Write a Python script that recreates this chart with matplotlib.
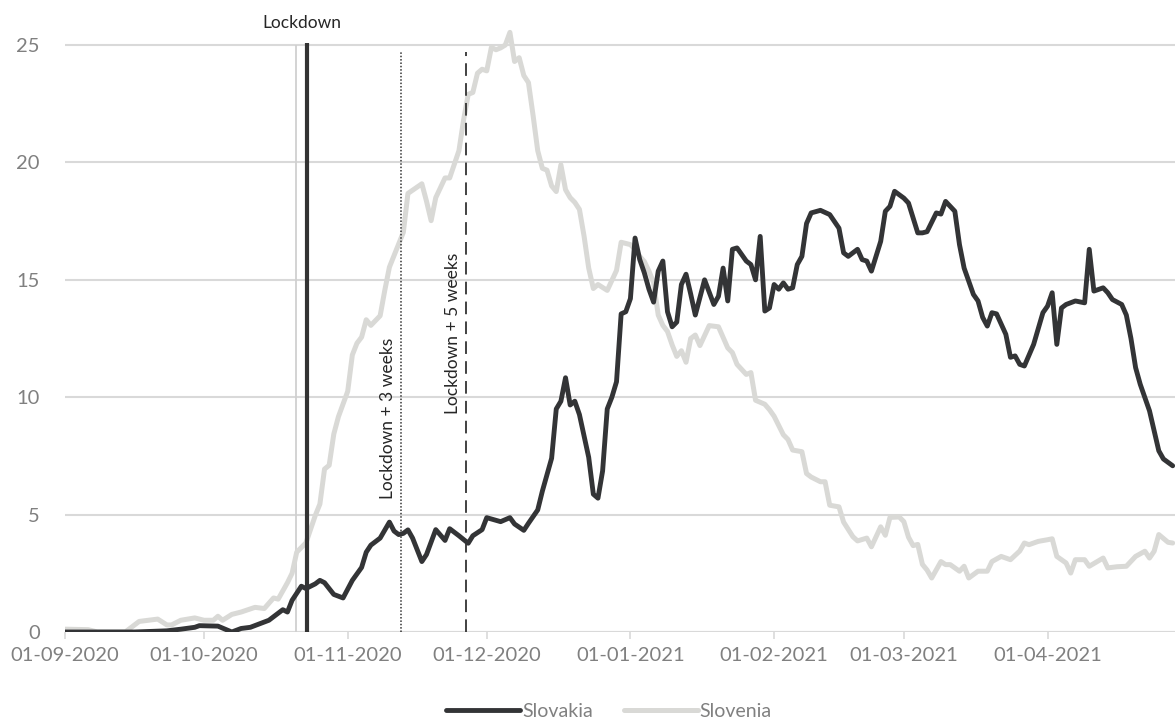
import numpy as np
import pandas as pd
import matplotlib
matplotlib.use('Agg')
import matplotlib.pyplot as plt
import matplotlib.dates as mdates

plt.rcParams['font.family'] = ['Lato', 'DejaVu Sans']

start = pd.Timestamp('2020-09-01')

# days since 01-09-2020 and 14-day values
svk_days = [0, 5, 10, 15, 22, 25, 28, 29, 33, 36, 38, 40, 42, 44, 46, 47, 48, 49, 51, 52,
            54, 55, 56, 58, 60, 62, 64, 65, 66, 68, 70, 71, 72, 73, 74, 75, 77, 78, 80, 82,
            83, 85, 87, 88, 90, 91, 94, 96, 97, 99, 100, 102, 103, 105, 106, 107, 108, 109, 110, 111,
            113, 114, 115, 116, 117, 118, 119, 120, 121, 122, 123, 124, 125, 126, 127, 128, 129, 130, 131, 132,
            133, 134, 135, 136, 138, 140, 141, 142, 143, 144, 145, 147, 148, 149, 150, 151, 152, 153, 154, 155,
            156, 157, 158, 159, 160, 161, 163, 165, 167, 168, 169, 171, 172, 173, 174, 176, 177, 178, 179, 181,
            182, 184, 185, 186, 188, 189, 190, 192, 193, 194, 196, 197, 198, 199, 200, 201, 203, 204, 205, 206,
            207, 209, 211, 212, 213, 214, 215, 216, 218, 220, 221, 222, 224, 225, 226, 228, 229, 230, 231, 232,
            234, 235, 236, 237, 239]
svk_vals = [0.0, 0.0, 0.0, 0.0, 0.05, 0.12, 0.2, 0.27, 0.25, 0.0, 0.15, 0.2, 0.35, 0.5, 0.8, 0.95, 0.85, 1.35, 1.95, 1.85,
            2.05, 2.2, 2.1, 1.6, 1.45, 2.2, 2.75, 3.4, 3.7, 4.0, 4.68, 4.3, 4.15, 4.2, 4.35, 4.0, 3.0, 3.3, 4.36, 3.9,
            4.4, 4.1, 3.78, 4.1, 4.36, 4.87, 4.7, 4.87, 4.6, 4.33, 4.63, 5.2, 6.0, 7.4, 9.5, 9.83, 10.83, 9.67, 9.83, 9.26,
            7.44, 5.87, 5.7, 6.86, 9.5, 10.0, 10.66, 13.55, 13.64, 14.2, 16.78, 15.87, 15.3, 14.6, 14.05, 15.37, 15.8, 13.64, 13.0, 13.2,
            14.8, 15.24, 14.4, 13.5, 15.0, 13.95, 14.3, 15.5, 14.1, 16.3, 16.36, 15.8, 15.65, 15.0, 16.85, 13.67, 13.8, 14.8, 14.6, 14.87,
            14.6, 14.66, 15.65, 16.0, 17.4, 17.85, 17.96, 17.78, 17.2, 16.15, 16.0, 16.3, 15.86, 15.8, 15.37, 16.64, 17.92, 18.13, 18.77, 18.48,
            18.27, 17.0, 17.0, 17.05, 17.85, 17.8, 18.34, 17.92, 16.5, 15.5, 14.38, 14.1, 13.4, 13.03, 13.6, 13.55, 12.68, 11.7, 11.76, 11.4,
            11.33, 12.25, 13.6, 13.88, 14.45, 12.25, 13.8, 13.95, 14.1, 14.02, 16.3, 14.52, 14.66, 14.45, 14.16, 13.95, 13.5, 12.5, 11.26, 10.55,
            9.42, 8.57, 7.72, 7.37, 7.08]

svn_days = [0, 5, 7, 13, 15, 16, 20, 22, 23, 25, 28, 30, 32, 33, 34, 36, 38, 41, 43, 45,
            46, 48, 49, 50, 52, 54, 55, 56, 57, 58, 59, 61, 62, 63, 64, 65, 66, 68, 69, 70,
            72, 73, 74, 77, 78, 79, 80, 82, 83, 85, 86, 87, 88, 89, 90, 91, 92, 93, 94, 95,
            96, 97, 98, 99, 100, 101, 102, 103, 104, 105, 106, 107, 108, 109, 110, 111, 112, 113, 114, 115,
            117, 119, 120, 121, 122, 123, 124, 125, 126, 127, 128, 129, 130, 131, 132, 133, 134, 135, 136, 137,
            139, 141, 143, 144, 145, 147, 148, 149, 151, 152, 153, 155, 156, 157, 159, 160, 161, 163, 164, 165,
            167, 168, 170, 171, 173, 174, 176, 177, 178, 180, 181, 182, 183, 184, 185, 186, 187, 189, 190, 191,
            193, 194, 195, 197, 199, 200, 202, 204, 206, 207, 208, 210, 212, 213, 214, 216, 217, 218, 220, 221,
            224, 225, 227, 229, 231, 233, 234, 235, 236, 238, 239]
svn_vals = [0.12, 0.1, 0.0, 0.0, 0.3, 0.45, 0.55, 0.3, 0.3, 0.5, 0.6, 0.5, 0.5, 0.67, 0.5, 0.75, 0.85, 1.05, 1.0, 1.45,
            1.4, 2.1, 2.5, 3.4, 3.8, 4.96, 5.45, 6.94, 7.1, 8.43, 9.17, 10.25, 11.8, 12.3, 12.56, 13.3, 13.06, 13.47, 14.55, 15.54,
            16.53, 17.02, 18.68, 19.09, 18.35, 17.52, 18.5, 19.34, 19.34, 20.5, 21.8, 22.9, 22.98, 23.8, 23.97, 23.9, 24.9, 24.8, 24.88, 25.0,
            25.54, 24.3, 24.46, 23.7, 23.4, 22.0, 20.5, 19.75, 19.67, 19.0, 18.76, 19.9, 18.84, 18.5, 18.3, 18.0, 16.86, 15.5, 14.63, 14.8,
            14.55, 15.4, 16.6, 16.55, 16.5, 16.3, 16.0, 15.78, 15.37, 14.88, 13.5, 13.06, 12.8, 12.23, 11.74, 11.98, 11.49, 12.5, 12.65, 12.2,
            13.05, 13.0, 12.1, 11.9, 11.4, 10.97, 11.05, 9.87, 9.7, 9.47, 9.19, 8.4, 8.2, 7.75, 7.68, 6.75, 6.6, 6.4, 6.4, 5.4,
            5.33, 4.68, 4.06, 3.88, 4.0, 3.63, 4.48, 4.12, 4.88, 4.9, 4.7, 4.04, 3.68, 3.73, 2.88, 2.64, 2.3, 3.0, 2.87, 2.87,
            2.59, 2.8, 2.3, 2.59, 2.59, 3.0, 3.22, 3.08, 3.45, 3.79, 3.72, 3.86, 3.93, 3.97, 3.22, 2.94, 2.51, 3.08, 3.08, 2.8,
            3.15, 2.73, 2.78, 2.8, 3.22, 3.44, 3.15, 3.44, 4.15, 3.82, 3.79]

# lockdown markers (days since start)
svn_lockdown = 49.8
svk_lockdown = 52.3
plus3_day = 72.5
plus5_day = 86.5

tick_dates = ['2020-09-01', '2020-10-01', '2020-11-01', '2020-12-01',
              '2021-01-01', '2021-02-01', '2021-03-01', '2021-04-01']

def to_date(d):
    return start + pd.to_timedelta(d, unit='D')

svk_x = to_date(np.array(svk_days, dtype=float))
svn_x = to_date(np.array(svn_days, dtype=float))

fig = plt.figure(figsize=(11.75, 7.19), dpi=100)
ax = fig.add_axes([0.0553, 0.121, 0.9447, 0.849])

ax.set_ylim(0, 26)
ax.set_xlim(start, to_date(239.5))
ax.set_yticks([0, 5, 10, 15, 20, 25])
ax.yaxis.grid(True, color='#d9d9d9', linewidth=1.5, zorder=0)
ax.set_axisbelow(True)
for s in ax.spines.values():
    s.set_visible(False)

# markers
ax.vlines(to_date(svn_lockdown), 0, 25, color='#d0d0d0', linewidth=1.3, zorder=1)
ax.vlines(to_date(svk_lockdown), 0, 25.1, color='#333333', linewidth=3, zorder=3)
ax.vlines(to_date(plus3_day), 0, 24.7, color='#333333', linewidth=1.1, linestyles=(0, (1, 1.2)), zorder=3)
ax.vlines(to_date(plus5_day), 0, 24.7, color='#333333', linewidth=1.3, linestyles=(0, (7, 4)), zorder=3)

ax.plot(svk_x, svk_vals, color='#333436', linewidth=3.5, label='Slovakia', zorder=4,
        solid_joinstyle='round', solid_capstyle='round')
ax.plot(svn_x, svn_vals, color='#d9d9d6', linewidth=3.6, label='Slovenia', zorder=2,
        solid_joinstyle='round', solid_capstyle='round')

ax.text(to_date((svn_lockdown + svk_lockdown) / 2), 25.95, 'Lockdown', ha='center', va='center',
        fontsize=12.5, color='#262626', clip_on=False)
ax.text(to_date(plus3_day - 1.1), 5.65, 'Lockdown + 3 weeks', rotation=90, ha='right', va='bottom',
        fontsize=12.5, color='#262626')
ax.text(to_date(plus5_day - 1.1), 9.3, 'Lockdown + 5 weeks', rotation=90, ha='right', va='bottom',
        fontsize=12.5, color='#262626')

ax.set_xticks(pd.to_datetime(tick_dates))
ax.xaxis.set_major_formatter(mdates.DateFormatter('%d-%m-%Y'))
ax.tick_params(axis='x', length=5, width=1.2, color='#d9d9d9', pad=6, labelsize=14.5, labelcolor='#808080')
ax.tick_params(axis='y', length=0, pad=18, labelsize=14.5, labelcolor='#808080')
ax.axhline(0, color='#d9d9d9', linewidth=1.5, zorder=0)

leg = ax.legend(loc='upper center', bbox_to_anchor=(0.49, -0.088), ncol=2, frameon=False,
                fontsize=14, handlelength=3.8, handletextpad=0.1, columnspacing=1.6)
for t in leg.get_texts():
    t.set_color('#808080')

fig.savefig('out.png', dpi=100)
